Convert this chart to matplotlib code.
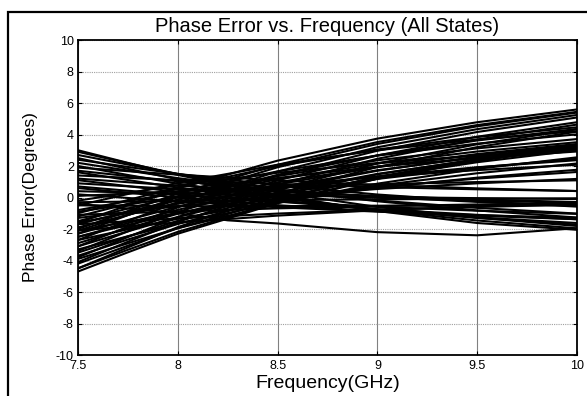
import matplotlib.pyplot as plt
from matplotlib.patches import Rectangle

plt.rcParams['font.family'] = ['Liberation Sans', 'DejaVu Sans']
plt.rcParams['axes.unicode_minus'] = False

W, H = 587, 396

# frequency points (GHz)
freq = [7.5, 7.75, 8.0, 8.25, 8.5, 9.0, 9.5, 10.0]

# phase error of each state (degrees)
rising = [
    [-4.7, -3.48, -2.3, -1.34, -0.35, 1.19, 2.34, 3.24],
    [-4.5, -3.32, -2.18, -1.25, -0.28, 1.2, 2.32, 3.19],
    [-4.2, -3.06, -1.95, -1.05, -0.12, 1.32, 2.4, 3.24],
    [-3.9, -2.91, -1.95, -1.17, -0.36, 0.88, 1.82, 2.55],
    [-3.7, -2.67, -1.68, -0.87, -0.03, 1.27, 2.24, 3.0],
    [-3.5, -2.47, -1.48, -0.67, 0.17, 1.47, 2.44, 3.2],
    [-3.3, -2.46, -1.65, -0.99, -0.31, 0.75, 1.54, 2.16],
    [-3.1, -2.15, -1.23, -0.48, 0.3, 1.5, 2.4, 3.1],
    [-2.9, -1.95, -1.03, -0.28, 0.5, 1.7, 2.6, 3.3],
    [-2.7, -2.02, -1.35, -0.81, -0.25, 0.61, 1.26, 1.76],
    [-2.5, -1.63, -0.78, -0.09, 0.63, 1.73, 2.56, 3.2],
    [-2.5, -1.74, -1.0, -0.4, 0.22, 1.18, 1.9, 2.46],
    [-2.3, -1.43, -0.58, 0.12, 0.83, 1.93, 2.76, 3.4],
    [-2.1, -1.53, -0.98, -0.53, -0.06, 0.66, 1.2, 1.62],
    [-2.1, -1.11, -0.15, 0.63, 1.44, 2.68, 3.62, 4.35],
    [-1.9, -1.1, -0.33, 0.31, 0.96, 1.96, 2.72, 3.31],
    [-1.7, -0.9, -0.13, 0.51, 1.16, 2.16, 2.92, 3.51],
    [-1.6, -0.99, -0.4, 0.08, 0.58, 1.34, 1.92, 2.37],
    [-1.5, -0.7, 0.08, 0.71, 1.36, 2.36, 3.12, 3.71],
    [-1.2, -0.4, 0.38, 1.01, 1.66, 2.66, 3.42, 4.01],
    [-1.0, -0.16, 0.65, 1.31, 1.99, 3.05, 3.84, 4.46],
    [-0.8, -0.23, 0.33, 0.78, 1.24, 1.96, 2.5, 2.92],
    [-0.2, 0.29, 0.78, 1.17, 1.57, 2.19, 2.66, 3.02],
    [-1.6, -0.5, 0.58, 1.45, 2.34, 3.74, 4.78, 5.59],
    [-2.0, -0.86, 0.25, 1.15, 2.08, 3.52, 4.6, 5.44],
    [-2.3, -1.12, 0.03, 0.96, 1.92, 3.4, 4.52, 5.39],
    [-2.7, -1.48, -0.3, 0.66, 1.65, 3.19, 4.34, 5.24],
    [-3.1, -1.85, -0.63, 0.37, 1.39, 2.97, 4.16, 5.08],
    [-3.4, -2.15, -0.93, 0.07, 1.09, 2.67, 3.86, 4.78],
    [-3.8, -2.51, -1.25, -0.23, 0.82, 2.46, 3.68, 4.63],
    [-4.1, -2.81, -1.55, -0.53, 0.52, 2.16, 3.38, 4.33],
    [-4.5, -3.17, -1.88, -0.83, 0.26, 1.94, 3.2, 4.18],
    [-0.5, 0.22, 0.93, 1.5, 2.08, 3.0, 3.68, 4.21],
    [-0.9, -0.44, 0.0, 0.36, 0.73, 1.31, 1.74, 2.08],
    [-1.3, -0.92, -0.55, -0.25, 0.06, 0.54, 0.9, 1.18],
]
falling = [
    [3.0, 2.2, 1.43, 0.8, 0.14, -0.86, -1.62, -2.05],
    [2.9, 2.18, 1.48, 0.91, 0.32, -0.6, -1.28, -1.81],
    [2.7, 2.09, 1.5, 1.02, 0.52, -0.24, -0.82, -1.27],
    [2.5, 1.82, 1.15, 0.61, 0.05, -0.81, -1.46, -1.96],
    [2.4, 1.94, 1.5, 1.14, 0.77, 0.19, -0.24, -0.58],
    [2.2, 1.71, 1.23, 0.84, 0.43, -0.19, -0.66, -1.02],
    [2.0, 1.43, 0.88, 0.43, -0.04, -0.76, -1.3, -1.72],
    [1.9, 1.67, 1.45, 1.27, 1.08, 0.8, 0.58, 0.41],
    [1.7, 1.36, 1.03, 0.76, 0.48, 0.04, -0.28, -0.53],
    [1.6, 1.11, 0.63, 0.24, -0.17, -0.79, -1.26, -1.62],
    [1.4, 1.25, 1.1, 0.98, 0.86, 0.66, 0.52, 0.41],
    [1.2, 0.97, 0.75, 0.57, 0.38, 0.1, -0.12, -0.29],
    [1.1, 0.72, 0.35, 0.05, -0.26, -0.74, -1.1, -1.38],
    [0.9, 0.71, 0.53, 0.38, 0.22, -0.02, -0.2, -0.34],
    [0.7, 0.43, 0.18, -0.04, -0.25, -0.59, -0.84, -1.04],
    [0.6, 0.3, 0.0, -0.24, -0.49, -0.87, -1.16, -1.38],
    [0.4, 0.32, 0.25, 0.19, 0.13, 0.03, -0.04, -0.1],
    [0.2, -0.03, -0.25, -0.43, -0.62, -0.9, -1.12, -1.29],
    [-0.4, -0.7, -1.0, -1.45, -1.65, -2.2, -2.4, -1.95],
]
flat = [
    [-0.3, -0.26, -0.23, -0.2, -0.16, -0.12, -0.08, -0.05],
    [-0.5, -0.52, -0.55, -0.56, -0.55, -0.52, -0.5, -0.48],
    [-1.1, -0.99, -0.88, -0.79, -0.69, -0.55, -0.44, -0.36],
    [-1.7, -1.51, -1.33, -1.18, -1.02, -0.78, -0.6, -0.46],
    [-2.1, -1.83, -1.58, -1.37, -1.15, -0.81, -0.56, -0.36],
    [0.1, 0.25, 0.4, 0.52, 0.64, 0.84, 0.98, 1.09],
]

xticks = [7.5, 8, 8.5, 9, 9.5, 10]
xticklabels = ['7.5', '8', '8.5', '9', '9.5', '10']
yticks = [-10, -8, -6, -4, -2, 0, 2, 4, 6, 8, 10]

fig = plt.figure(figsize=(W / 100, H / 100), dpi=100)
# frame around the whole figure (cut off on the right and bottom)
fig.patches.append(Rectangle((8 / W, -0.1), 1.2, 1.1 - 12 / H, transform=fig.transFigure,
                             fill=False, edgecolor='black', linewidth=1.6, zorder=0))

ax = fig.add_axes([78 / W, 1 - 355 / H, 499 / W, 315 / H])

for s in rising + falling + flat:
    ax.plot(freq, s, color='black', linewidth=1.5)

ax.set_xlim(7.5, 10)
ax.set_ylim(-10, 10)
ax.set_xticks(xticks)
ax.set_xticklabels(xticklabels)
ax.set_yticks(yticks)
ax.tick_params(direction='in', length=3, width=0.8, labelsize=9, top=True, right=True)
ax.tick_params(axis='x', pad=3.5)
ax.tick_params(axis='y', pad=3)

ax.xaxis.grid(True, color='#808080', linewidth=0.8, linestyle='-')
ax.yaxis.grid(True, color='#a0a0a0', linewidth=0.8, linestyle=(0, (1, 1)))
ax.set_axisbelow(True)
for sp in ax.spines.values():
    sp.set_linewidth(1.3)

fig.text(327.5 / W, 1 - 26 / H, 'Phase Error vs. Frequency (All States)',
         fontsize=14.5, ha='center', va='center')
fig.text(328 / W, 1 - 384 / H, 'Frequency(GHz)', fontsize=14, ha='center', va='center')
fig.text(31 / W, 1 - 197 / H, 'Phase Error(Degrees)', fontsize=12.5, rotation=90,
         ha='center', va='center')

fig.savefig('out.png', dpi=100)
